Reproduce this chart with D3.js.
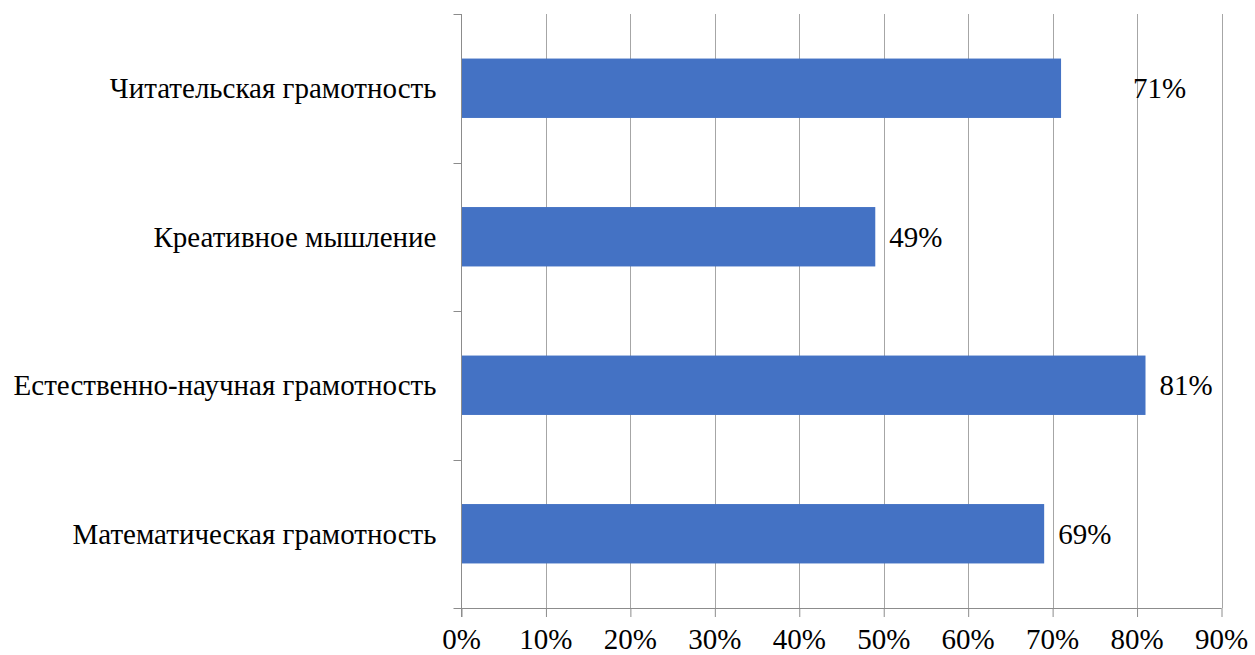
<!DOCTYPE html>
<html>
<head>
<meta charset="utf-8">
<script src="https://cdn.jsdelivr.net/npm/d3@7"></script>
<style>
  html, body { margin: 0; padding: 0; background: #fff; }
  svg { display: block; }
</style>
</head>
<body>
<svg id="chart" width="1255" height="655"></svg>
<script>
// Categories, top to bottom
const categories = [
  "Читательская грамотность",
  "Креативное мышление",
  "Естественно-научная грамотность",
  "Математическая грамотность"
];
// Share of students, percent
const values = [71, 49, 81, 69];
// Value axis ticks
const xTicks = [0, 10, 20, 30, 40, 50, 60, 70, 80, 90];

const FONT = "Liberation Serif";
const FS = 29;

const svg = d3.select("#chart");
const plot = { left: 461.5, right: 1221.5, top: 14, bottom: 608 };

const x = d3.scaleLinear().domain([0, 90]).range([plot.left, plot.right]);
const y = d3.scaleBand().domain(categories).range([plot.top, plot.bottom]).padding(0);
const barH = y.bandwidth() * 0.4;

// vertical gridlines
svg.append("g")
  .selectAll("line")
  .data(xTicks.filter(d => d > 0))
  .join("line")
  .attr("x1", d => Math.round(x(d)) + 0.5)
  .attr("x2", d => Math.round(x(d)) + 0.5)
  .attr("y1", plot.top)
  .attr("y2", plot.bottom)
  .attr("stroke", "#a6a6a6")
  .attr("stroke-width", 1);

// bars
svg.append("g")
  .selectAll("rect")
  .data(values)
  .join("rect")
  .attr("x", x(0))
  .attr("y", (d, i) => y(categories[i]) + (y.bandwidth() - barH) / 2)
  .attr("width", d => x(d) - x(0))
  .attr("height", barH)
  .attr("fill", "#4472C4");

// bottom axis (lines only; labels drawn below)
const xAxis = d3.axisBottom(x)
  .tickValues(xTicks)
  .tickFormat("")
  .tickSize(9);
const gx = svg.append("g")
  .attr("transform", `translate(0,${plot.bottom})`)
  .call(xAxis);
gx.select(".domain").attr("stroke", "#8c8c8c").attr("d", `M${plot.left},0.5H${plot.right}`);
gx.selectAll(".tick line").attr("stroke", "#8c8c8c");
gx.selectAll(".tick text").remove();

// left axis: category boundaries get the tick marks
const gy = svg.append("g");
gy.append("line")
  .attr("x1", plot.left).attr("x2", plot.left)
  .attr("y1", plot.top).attr("y2", plot.bottom + 9)
  .attr("stroke", "#8c8c8c");
const bounds = d3.range(categories.length + 1).map(i => plot.top + i * y.step());
gy.selectAll("line.tk")
  .data(bounds)
  .join("line")
  .attr("class", "tk")
  .attr("x1", plot.left - 8).attr("x2", plot.left)
  .attr("y1", d => Math.round(d) + 0.5).attr("y2", d => Math.round(d) + 0.5)
  .attr("stroke", "#8c8c8c");

// tick labels
svg.append("g")
  .selectAll("text")
  .data(xTicks)
  .join("text")
  .attr("x", d => x(d))
  .attr("y", 649)
  .attr("text-anchor", "middle")
  .attr("font-family", FONT)
  .attr("font-size", FS)
  .text(d => d + "%");

// category labels
svg.append("g")
  .selectAll("text")
  .data(categories)
  .join("text")
  .attr("x", plot.left - 25)
  .attr("y", d => y(d) + y.bandwidth() / 2 + 10)
  .attr("text-anchor", "end")
  .attr("font-family", FONT)
  .attr("font-size", FS)
  .text(d => d);

// value labels; the first one sits further right of its bar
const labelShift = [72, 14, 14, 14];
svg.append("g")
  .selectAll("text")
  .data(values)
  .join("text")
  .attr("x", (d, i) => x(d) + labelShift[i])
  .attr("y", (d, i) => y(categories[i]) + y.bandwidth() / 2 + 10)
  .attr("font-family", FONT)
  .attr("font-size", FS)
  .text(d => d + "%");
</script>
</body>
</html>
